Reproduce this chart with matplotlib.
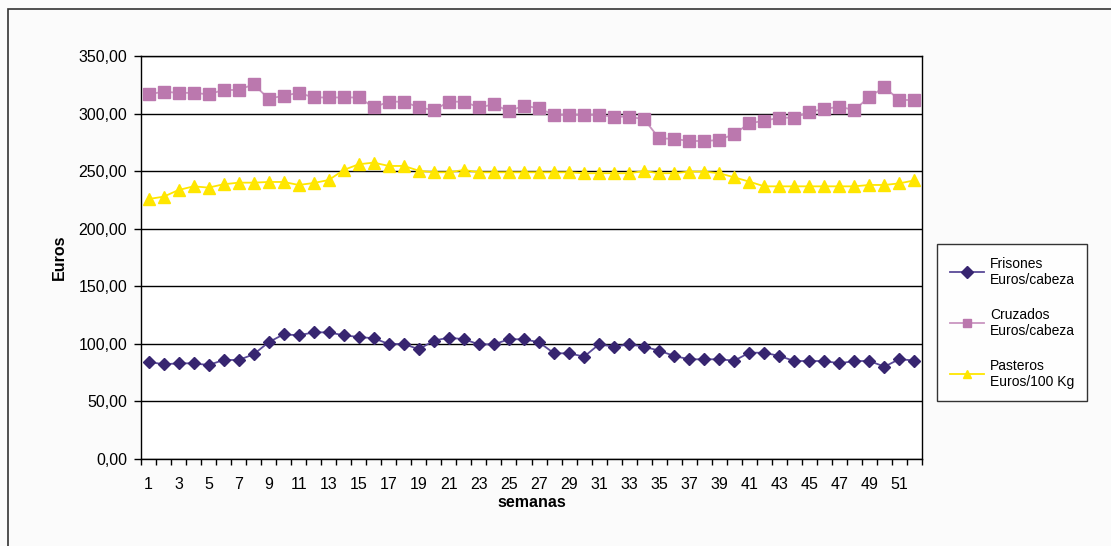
import numpy as np
import matplotlib.pyplot as plt
from matplotlib.patches import Rectangle

plt.rcParams['font.family'] = ['Liberation Sans', 'DejaVu Sans']

semanas = list(range(1, 53))

frisones = [84.5, 82.2, 83.1, 83.1, 81.6, 86.0, 86.0, 90.9, 101.4, 108.3,
            107.4, 110.0, 110.0, 107.4, 106.0, 104.8, 99.9, 99.9, 95.3, 102.8,
            105.4, 104.0, 99.6, 99.6, 104.0, 104.0, 101.4, 91.8, 91.8, 88.9,
            99.6, 97.5, 99.6, 97.5, 94.1, 89.5, 86.6, 86.6, 86.6, 85.4,
            92.3, 92.3, 89.5, 85.1, 85.1, 85.1, 83.1, 85.1, 85.1, 80.2,
            86.8, 85.4]

cruzados = [316.7, 319.0, 318.0, 318.0, 316.7, 320.5, 320.5, 325.4, 312.9, 315.5,
            318.0, 314.0, 314.0, 314.0, 314.0, 305.4, 310.3, 310.3, 305.4, 303.0,
            310.3, 310.3, 305.4, 308.0, 302.0, 307.0, 304.5, 298.8, 298.8, 298.8,
            298.8, 297.3, 297.3, 295.0, 278.5, 278.0, 276.2, 276.2, 277.0, 282.3,
            291.5, 293.8, 296.4, 296.4, 301.4, 304.0, 306.0, 303.0, 314.7, 322.8,
            311.8, 311.8]

pasteros = [225.8, 227.8, 233.6, 236.8, 235.7, 238.6, 240.0, 240.0, 240.6, 240.6,
            238.0, 239.7, 242.3, 251.0, 256.0, 257.4, 254.5, 254.5, 250.4, 249.0,
            249.0, 251.0, 249.0, 249.0, 249.0, 249.0, 249.0, 249.0, 249.0, 248.2,
            248.2, 248.2, 248.2, 250.1, 248.2, 248.2, 249.6, 249.6, 248.2, 244.6,
            240.9, 236.8, 236.8, 236.8, 236.8, 236.8, 236.8, 236.8, 238.0, 238.0,
            239.4, 242.0]

series_labels = ['Frisones\nEuros/cabeza', 'Cruzados\nEuros/cabeza', 'Pasteros\nEuros/100 Kg']
y_ticks = [0, 50, 100, 150, 200, 250, 300, 350]

fig = plt.figure(figsize=(11.11, 5.46), dpi=100)
fig.patch.set_facecolor('#fbfbfb')

# borde exterior del grafico
fig.patches.append(Rectangle((8 / 1111, -0.01), 1.02, 1 - 8.5 / 546 + 0.01,
                             transform=fig.transFigure, fill=False,
                             edgecolor='#333333', linewidth=1.2))

W, H = 1111, 546
ax = fig.add_axes([141 / W, 1 - 459 / H, (922 - 141) / W, (459 - 56) / H])
ax.set_facecolor('white')

x = np.array(semanas)
ax.plot(x, frisones, color='#5a4a98', lw=1.3, marker='D', ms=6,
        mfc='#372570', mec='#372570', label=series_labels[0], zorder=3)
ax.plot(x, cruzados, color='#c995c0', lw=1.3, marker='s', ms=8,
        mfc='#bb78ae', mec='#bb78ae', label=series_labels[1], zorder=3)
ax.plot(x, pasteros, color='#ffe600', lw=1.3, marker='^', ms=8,
        mfc='#ffe600', mec='#ffe600', label=series_labels[2], zorder=3)

ax.set_xlim(0.5, 52.5)
ax.set_ylim(0, 350)
ax.set_yticks(y_ticks)
ax.set_yticklabels([f'{v:.2f}'.replace('.', ',') for v in y_ticks])
ax.set_xticks(x[::2])
ax.set_xticklabels([str(v) for v in semanas[::2]])
ax.set_xticks(np.arange(0.5, 53, 1), minor=True)
ax.tick_params(axis='x', which='major', length=0, labelsize=11.5, pad=13)
ax.tick_params(axis='x', which='minor', length=4, width=1, direction='out')
ax.tick_params(axis='y', length=5, width=1, labelsize=11.5, pad=5)
ax.yaxis.grid(True, color='black', lw=1)
ax.set_axisbelow(True)
for s in ax.spines.values():
    s.set_linewidth(1)
    s.set_color('black')

ax.set_ylabel('Euros', fontsize=11.5, fontweight='bold', labelpad=8)
ax.set_xlabel('semanas', fontsize=11.5, fontweight='bold', labelpad=2)

leg = fig.legend(loc='upper left', bbox_to_anchor=(937 / W, 1 - 244 / H),
                 fontsize=10, frameon=True, fancybox=False, edgecolor='black',
                 borderpad=0.9, labelspacing=1.5, handlelength=2.5,
                 handletextpad=0.4, borderaxespad=0)
leg.get_frame().set_linewidth(1)
for t in leg.get_texts():
    t.set_multialignment('left')
for h in leg.legend_handles:
    h.set_markersize(6)

fig.savefig('out.png', dpi=100)
